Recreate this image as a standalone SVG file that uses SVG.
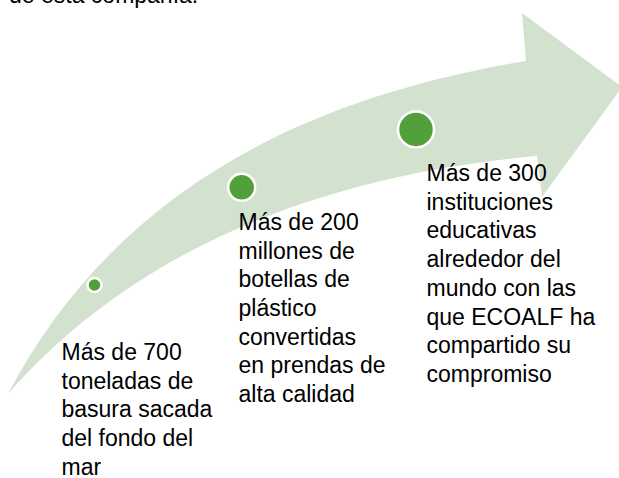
<svg xmlns="http://www.w3.org/2000/svg" width="619" height="478" viewBox="0 0 619 478">
  <style>
    .t { font-family: "Liberation Sans", Arial, sans-serif; font-size: 23px; fill: #000000; }
    .dot { fill: #52A03B; stroke: #FFFFFF; stroke-width: 2.5; }
    .band { fill: #D3E1CF; }
  </style>
  <rect x="0" y="0" width="619" height="478" fill="#FFFFFF"/>
  <text class="t" x="9" y="3">de esta compañía.</text>
  <g id="arrow">
    <path class="band" d="M 8,394 C 110,200 290,100 526,61 L 522,13 L 622,87 L 542,197 L 537,156 C 380,170 160,220 8,394 Z"/>
  </g>
  <g id="milestone-1">
    <circle class="dot" cx="94.5" cy="285" r="7"/>
    <text class="t" x="61.5">
      <tspan x="61.5" y="360">Más de 700</tspan>
      <tspan x="61.5" y="388.7">toneladas de</tspan>
      <tspan x="61.5" y="417.4">basura sacada</tspan>
      <tspan x="61.5" y="446.1">del fondo del</tspan>
      <tspan x="61.5" y="474.8">mar</tspan>
    </text>
  </g>
  <g id="milestone-2">
    <circle class="dot" cx="241.7" cy="187.3" r="13.5"/>
    <text class="t">
      <tspan x="238.5" y="229.8">Más de 200</tspan>
      <tspan x="238.5" y="258.5">millones de</tspan>
      <tspan x="238.5" y="287.2">botellas de</tspan>
      <tspan x="238.5" y="315.9">plástico</tspan>
      <tspan x="238.5" y="344.6">convertidas</tspan>
      <tspan x="238.5" y="373.3">en prendas de</tspan>
      <tspan x="238.5" y="402">alta calidad</tspan>
    </text>
  </g>
  <g id="milestone-3">
    <circle class="dot" cx="416" cy="129.5" r="18"/>
    <text class="t">
      <tspan x="426.5" y="181">Más de 300</tspan>
      <tspan x="426.5" y="209.7">instituciones</tspan>
      <tspan x="426.5" y="238.4">educativas</tspan>
      <tspan x="426.5" y="267.1">alrededor del</tspan>
      <tspan x="426.5" y="295.8">mundo con las</tspan>
      <tspan x="426.5" y="324.5">que ECOALF ha</tspan>
      <tspan x="426.5" y="353.2">compartido su</tspan>
      <tspan x="426.5" y="381.9">compromiso</tspan>
    </text>
  </g>
</svg>
